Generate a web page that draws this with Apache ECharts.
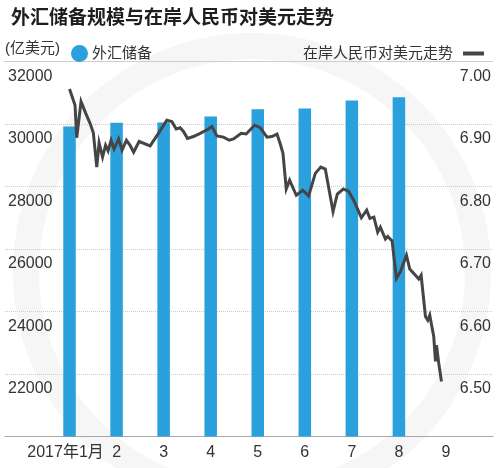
<!DOCTYPE html>
<html>
<head>
<meta charset="utf-8">
<script src="https://cdn.jsdelivr.net/npm/echarts@6/dist/echarts.min.js"></script>
<style>
  html, body { margin: 0; padding: 0; background: #ffffff; }
  #chart { width: 500px; height: 468px; }
</style>
</head>
<body>
<div id="chart"></div>
<script>
// ---- data ----
const titleText = '外汇储备规模与在岸人民币对美元走势';
const unitText = '(亿美元)';
const reserveName = '外汇储备';
const rateName = '在岸人民币对美元走势';
const months = ['2017年1月', '2', '3', '4', '5', '6', '7', '8', '9'];
const reserves = [29920, 30040, 30050, 30240, 30470, 30500, 30750, 30860];
// position of each daily point on the month scale (1 = January, 2 = February, ...)
const rateX = [1.000, 1.117, 1.153, 1.245, 1.345, 1.436, 1.506, 1.579, 1.628, 1.702,
  1.766, 1.819, 1.883, 1.947, 2.043, 2.117, 2.209, 2.287, 2.362, 2.479,
  2.713, 2.889, 3.068, 3.174, 3.266, 3.351, 3.421, 3.506, 3.634, 3.777,
  3.953, 4.026, 4.132, 4.272, 4.394, 4.485, 4.649, 4.755, 4.932, 5.053,
  5.196, 5.302, 5.409, 5.479, 5.536, 5.606, 5.677, 5.819, 5.957, 6.081,
  6.223, 6.340, 6.436, 6.600, 6.691, 6.819, 6.932, 7.038, 7.202, 7.315,
  7.383, 7.468, 7.549, 7.606, 7.713, 7.762, 7.855, 7.947, 8.032, 8.160,
  8.230, 8.351, 8.421, 8.472, 8.564, 8.613, 8.655, 8.740, 8.777, 8.798,
  8.834, 8.847, 8.904];
const rateY = [6.956, 6.930, 6.878, 6.936, 6.917, 6.901, 6.886, 6.831, 6.870, 6.847,
  6.866, 6.857, 6.874, 6.860, 6.876, 6.858, 6.874, 6.866, 6.855, 6.872,
  6.865, 6.885, 6.906, 6.904, 6.892, 6.894, 6.888, 6.877, 6.880, 6.885,
  6.892, 6.896, 6.881, 6.879, 6.874, 6.876, 6.885, 6.884, 6.898, 6.894,
  6.879, 6.880, 6.884, 6.868, 6.853, 6.796, 6.810, 6.786, 6.794, 6.785,
  6.821, 6.831, 6.828, 6.760, 6.788, 6.796, 6.792, 6.778, 6.750, 6.762,
  6.749, 6.751, 6.727, 6.735, 6.716, 6.720, 6.713, 6.653, 6.664, 6.690,
  6.668, 6.658, 6.652, 6.658, 6.592, 6.586, 6.594, 6.560, 6.520, 6.546,
  6.548, 6.517, 6.488];
const reserveTicks = { min: 20000, max: 32000, step: 2000 };
const rateTicks = { min: 6.4, max: 7.0, step: 0.1 };

// ---- chart ----
const FONT = "'Liberation Sans','Noto Sans CJK SC',sans-serif";
const BLUE = '#2aa0dc';
const DARK = '#454545';
const TXT = '#333333';

const chart = echarts.init(document.getElementById('chart'), null, { renderer: 'canvas' });

const gridPos = { top: 61.5, bottom: 31.5 };

chart.setOption({
  animation: false,
  backgroundColor: '#ffffff',
  textStyle: { fontFamily: FONT },
  title: {
    text: titleText,
    left: 6, top: 4,
    textStyle: { fontFamily: FONT, fontSize: 19, fontWeight: 'bold', color: '#1e1e1e' }
  },
  legend: [
    {
      data: [reserveName],
      left: 66, top: 40,
      icon: 'circle', itemWidth: 17, itemHeight: 17, itemGap: 0,
      textStyle: { fontFamily: FONT, fontSize: 15, color: TXT, padding: [0, 0, 0, -1] },
      selectedMode: false
    },
    {
      data: [{ name: rateName, icon: 'rect' }],
      right: 11, top: 41, align: 'right',
      itemWidth: 21, itemHeight: 4, itemGap: 0,
      textStyle: { fontFamily: FONT, fontSize: 15, color: TXT, padding: [0, 5, 0, 0] },
      selectedMode: false
    }
  ],
  graphic: [
    {
      type: 'circle', silent: true, z: -10,
      shape: { cx: 252, cy: 272, r: 226 },
      style: { fill: 'none', stroke: '#f6f6f6', lineWidth: 26 }
    },
    {
      type: 'text', left: 5, top: 41,
      style: { text: unitText, font: '15px ' + FONT, fill: TXT }
    },
    {
      type: 'line', silent: true,
      shape: { x1: 4, y1: 61.5, x2: 493, y2: 61.5 },
      style: { stroke: '#cfcfcf', lineWidth: 1 }
    }
  ],
  grid: [
    { left: 5, right: 7, top: gridPos.top, bottom: gridPos.bottom },
    { left: 46, right: 30.5, top: gridPos.top, bottom: gridPos.bottom }
  ],
  xAxis: [
    {
      gridIndex: 0, type: 'value', min: 0, max: 1,
      axisLine: { show: true, lineStyle: { color: '#a8a8a8', width: 1 } },
      axisTick: { show: false }, axisLabel: { show: false }, splitLine: { show: false }
    },
    {
      gridIndex: 1, type: 'category', data: months, boundaryGap: true,
      axisLine: { show: false }, axisTick: { show: false },
      axisLabel: {
        margin: 8, fontSize: 16, color: TXT, fontFamily: FONT, interval: 0,
        formatter: (v, i) => i === 0 ? '{first|' + v + '}' : v,
        rich: { first: { fontSize: 16, color: TXT, fontFamily: FONT, padding: [0, 8, 0, 0] } }
      },
      splitLine: { show: false }
    },
    {
      gridIndex: 1, type: 'value', min: 0.5, max: 9.5, show: false
    }
  ],
  yAxis: [
    {
      gridIndex: 0, type: 'value', position: 'left',
      min: reserveTicks.min, max: reserveTicks.max, interval: reserveTicks.step,
      axisLine: { show: false }, axisTick: { show: false },
      axisLabel: {
        inside: true, margin: 3, showMinLabel: false, showMaxLabel: true,
        verticalAlign: 'top', lineHeight: 16, padding: [7, 0, 0, 0],
        fontSize: 16, color: TXT, fontFamily: FONT,
        formatter: v => String(Math.round(v))
      },
      splitLine: { show: true, lineStyle: { color: '#cccccc', type: 'dotted', width: 1 } }
    },
    {
      gridIndex: 0, type: 'value', position: 'right',
      min: rateTicks.min, max: rateTicks.max, interval: rateTicks.step,
      axisLine: { show: false }, axisTick: { show: false },
      axisLabel: {
        inside: true, margin: 2, showMinLabel: false, showMaxLabel: true,
        verticalAlign: 'top', lineHeight: 16, padding: [7, 0, 0, 0],
        fontSize: 16, color: TXT, fontFamily: FONT,
        formatter: v => v.toFixed(2)
      },
      splitLine: { show: false }
    },
    {
      gridIndex: 1, type: 'value', min: reserveTicks.min, max: reserveTicks.max, show: false
    },
    {
      gridIndex: 1, type: 'value', min: rateTicks.min, max: rateTicks.max, show: false
    }
  ],
  series: [
    {
      name: reserveName, type: 'bar',
      xAxisIndex: 1, yAxisIndex: 2,
      data: reserves,
      barWidth: 12.5,
      itemStyle: { color: BLUE },
      z: 2
    },
    {
      name: rateName, type: 'line',
      xAxisIndex: 2, yAxisIndex: 3,
      data: rateX.map((x, i) => [x, rateY[i]]),
      symbol: 'none',
      lineStyle: { color: DARK, width: 3, join: 'miter' },
      itemStyle: { color: DARK },
      z: 3
    }
  ]
});
</script>
</body>
</html>
